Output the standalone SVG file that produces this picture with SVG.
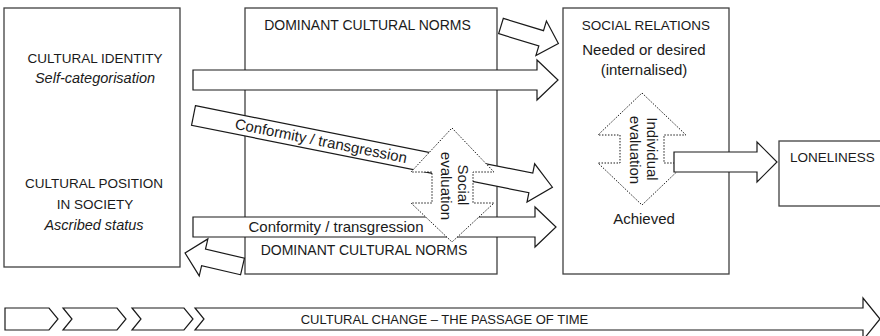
<svg xmlns="http://www.w3.org/2000/svg" width="880" height="336" viewBox="0 0 880 336">
<style>
  .box { fill: #ffffff; stroke: #404040; stroke-width: 1.3; }
  .arr { fill: #ffffff; stroke: #1a1a1a; stroke-width: 1.2; stroke-linejoin: miter; }
  .dot { fill: #ffffff; stroke: #1a1a1a; stroke-width: 1; stroke-dasharray: 1.5 1.5; }
  text { font-family: "Liberation Sans", Arial, sans-serif; fill: #1a1a1a; }
  .cap { font-size: 13.5px; }
  .norm { font-size: 14px; }
  .mix { font-size: 15px; }
  .it { font-size: 14.5px; font-style: italic; }
  .mid { text-anchor: middle; }
</style>
<rect width="880" height="336" fill="#ffffff"/>

<g id="node-cultural">
  <rect class="box" x="4" y="8" width="176" height="259"/>
  <text class="cap mid" x="95" y="63">CULTURAL IDENTITY</text>
  <text class="it mid" x="95" y="82.5">Self-categorisation</text>
  <text class="cap mid" x="94" y="188">CULTURAL POSITION</text>
  <text class="cap mid" x="95" y="209">IN SOCIETY</text>
  <text class="it mid" x="94" y="230">Ascribed status</text>
</g>

<g id="node-norms">
  <rect class="box" x="245" y="8" width="252" height="266"/>
  <text class="norm mid" x="367.5" y="30">DOMINANT CULTURAL NORMS</text>
  <text class="norm mid" x="364" y="255">DOMINANT CULTURAL NORMS</text>
</g>

<g id="node-social-relations">
  <rect class="box" x="563" y="8" width="166" height="266"/>
  <text class="cap mid" x="646" y="29.5">SOCIAL RELATIONS</text>
  <text class="mix mid" x="644" y="55">Needed or desired</text>
  <text class="mix mid" x="644" y="75">(internalised)</text>
  <text class="mix mid" x="644" y="224">Achieved</text>
</g>

<g id="node-loneliness">
  <rect class="box" x="779" y="141" width="110" height="65"/>
  <text class="cap" x="790" y="162">LONELINESS</text>
</g>

<g id="node-individual-evaluation">
  <path class="dot" d="M642,93 L686,135 H664 V163 H686 L642,205 L598,163 H620 V135 H598 Z"/>
  <text class="mix mid" transform="translate(646.5,149) rotate(90)">Individual</text>
  <text class="mix mid" transform="translate(629.5,150) rotate(90)">evaluation</text>
</g>

<g id="connectors">
  <path class="arr" transform="translate(501,26) rotate(17)" d="M0,-8 H42 V-18 L60,0 L42,18 V8 H0 Z"/>
  <path class="arr" d="M193,70 H537 V60 L558,80 L537,100 V90 H193 Z"/>
  <g transform="translate(193.5,115.5) rotate(11.3)">
    <path class="arr" d="M0,-10 H344 V-19.5 L366,0 L344,19.5 V10 H0 Z"/>
    <text class="mix mid" x="130" y="5">Conformity / transgression</text>
  </g>
  <path class="arr" d="M193,217 H535 V207 L556,227 L535,247 V237 H193 Z"/>
  <text class="mix mid" x="336" y="232">Conformity / transgression</text>
  <path class="arr" transform="translate(242.5,266.5) rotate(193.2)" d="M0,-8.5 H40 V-19 L59,0 L40,19 V8.5 H0 Z"/>
  <path class="arr" d="M674,152 H757 V142 L777,162 L757,182 V172 H674 Z"/>
</g>

<g id="node-social-evaluation">
  <path class="dot" d="M452,128 L494,172 H473 V203 H494 L452,242 L411,203 H432 V172 H411 Z"/>
  <text class="mix mid" transform="translate(458,185) rotate(90)">Social</text>
  <text class="mix mid" transform="translate(440.5,186) rotate(90)">evaluation</text>
</g>

<g id="node-timeline">
  <path class="arr" d="M5,308 H49 L58,319 L49,330 H5 Z"/>
  <path class="arr" d="M63,308 H117 L126,319 L117,330 H63 L72,319 Z"/>
  <path class="arr" d="M132,308 H184 L193,319 L184,330 H132 L141,319 Z"/>
  <path class="arr" d="M195,308 H863 V298 L880,319 L863,340 V330 H195 L204,319 Z"/>
  <text class="mid" style="font-size:13px" x="444.5" y="324">CULTURAL CHANGE – THE PASSAGE OF TIME</text>
</g>
</svg>
